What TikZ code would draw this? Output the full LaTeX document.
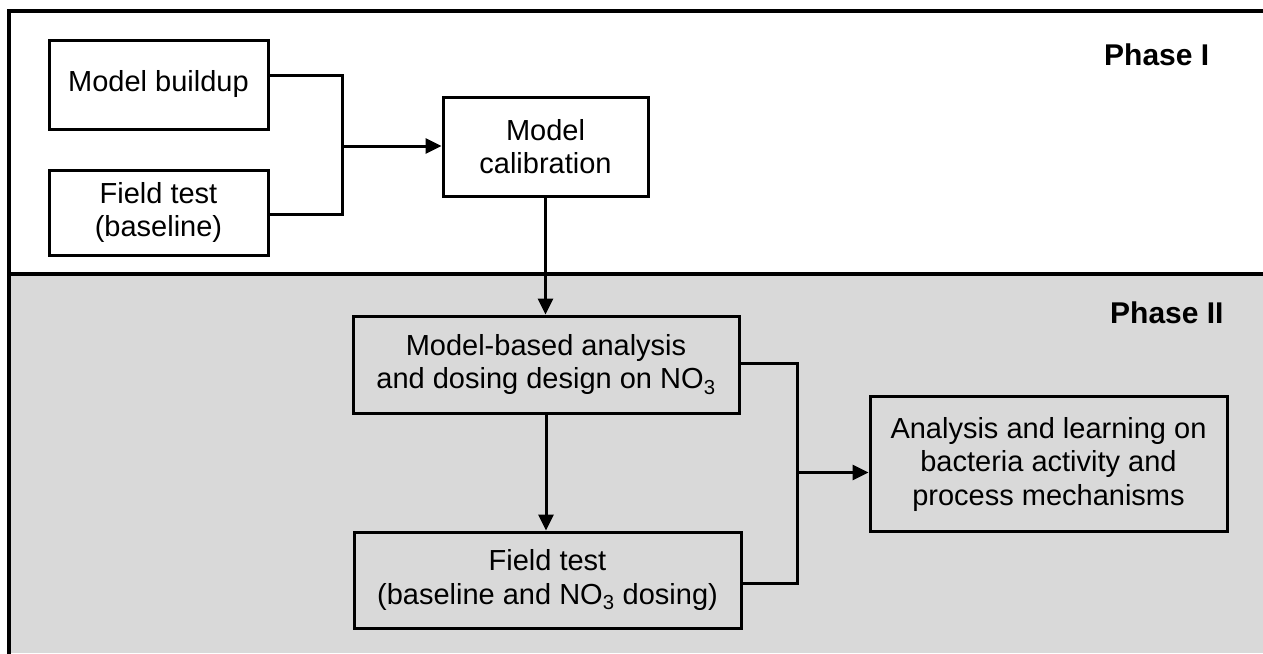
\documentclass[tikz,border=0pt]{standalone}
\usepackage{fontspec}
\setmainfont{Liberation Sans}
\usetikzlibrary{arrows.meta}
\definecolor{phasegray}{HTML}{D9D9D9}
\begin{document}
\begin{tikzpicture}[x=1pt,y=-1pt,
  box/.style={draw=black,line width=3pt,align=center,inner sep=0pt,
    font=\fontsize{29}{33.5}\selectfont},
  conn/.style={line width=3pt},
  arr/.style={conn,-{Triangle[length=16pt,width=15pt]}},
  phaselabel/.style={anchor=base west,inner sep=0pt,
    font=\fontsize{30}{36}\selectfont\bfseries}]
\useasboundingbox (0,0) rectangle (1263,653);
\fill[white] (9,11) rectangle (1263,274);
\fill[phasegray] (9,274) rectangle (1263,653);
\draw[line width=3.2pt] (1270,11) -- (9,11) -- (9,660);
\draw[line width=3.2pt] (9,274) -- (1270,274);

\node[box,fill=white,minimum width=219pt,minimum height=89pt] (mb) at (158.5,84.5) {Model buildup};
\node[box,fill=white,minimum width=219pt,minimum height=85pt] (ft) at (158.5,212.5) {Field test\\(baseline)};
\node[box,fill=white,minimum width=205pt,minimum height=99pt] (mc) at (545.5,146.5) {Model\\calibration};
\node[box,minimum width=386pt,minimum height=97pt] (mba) at (546,364.5) {Model-based analysis\\and dosing design on NO\textsubscript{3}};
\node[box,minimum width=387pt,minimum height=96pt] (ft2) at (547.5,580) {Field test\\(baseline and NO\textsubscript{3} dosing)};
\node[box,minimum width=357pt,minimum height=134.5pt] (an) at (1048.5,464) {Analysis and learning on\\bacteria activity and\\process mechanisms};

\node[phaselabel] (p1) at (1104,65) {Phase I};
\node[phaselabel] (p2) at (1110,323) {Phase II};

\coordinate (j1) at (342,146);
\draw[conn] ([yshift=9.5pt]mb.east) -| (j1) |- ([yshift=-1.5pt]ft.east);
\draw[arr] (j1) -- (mc.west |- j1);
\draw[arr] (mc.south) -- (mc.south |- mba.north);
\draw[arr] (mba.south) -- (mba.south |- ft2.north);
\coordinate (j2) at (797,472.5);
\draw[conn] ([yshift=1.5pt]mba.east) -| (j2) |- ([yshift=-3pt]ft2.east);
\draw[arr] (j2) -- (an.west |- j2);
\end{tikzpicture}
\end{document}
